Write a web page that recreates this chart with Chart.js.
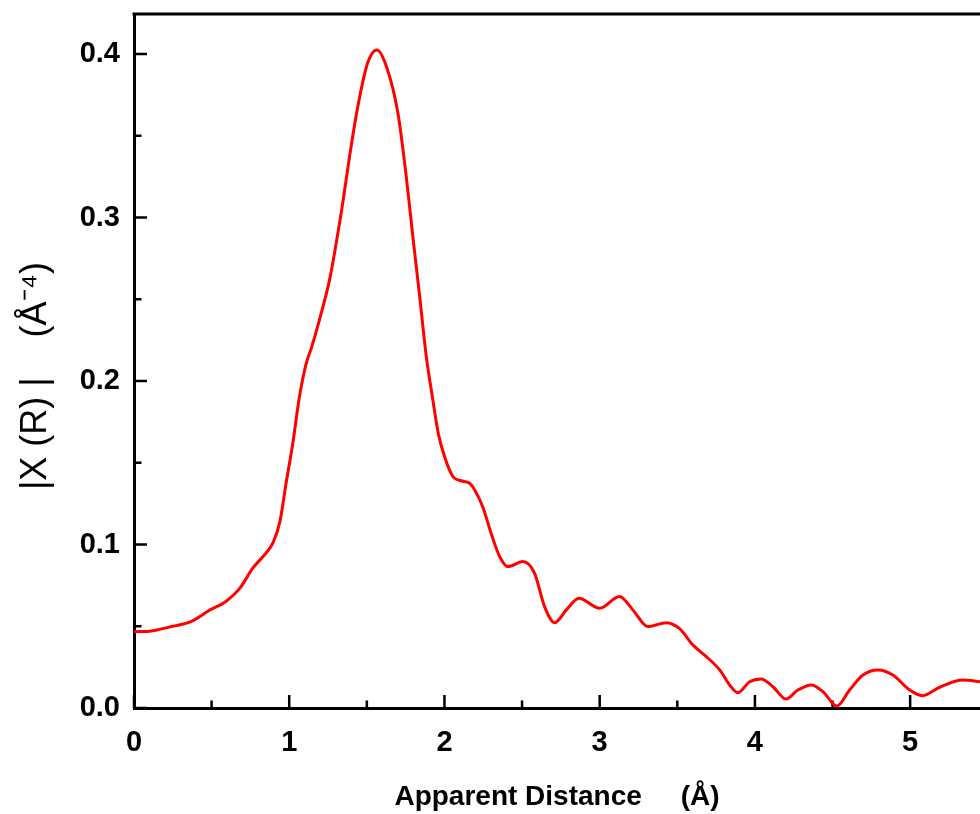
<!DOCTYPE html>
<html>
<head>
<meta charset="utf-8">
<script src="https://cdn.jsdelivr.net/npm/chart.js@4"></script>
<style>
  html, body { margin: 0; padding: 0; background: #fff; overflow: hidden; }
  #wrap { width: 980px; height: 814px; }
</style>
</head>
<body>
<div id="wrap"><canvas id="myChart" width="980" height="814"></canvas></div>
<script>
// apparent distance (Å) and |chi(R)| values
const distance = [0.0, 0.1, 0.25, 0.37, 0.49, 0.59, 0.68, 0.765, 0.85, 0.895, 0.94, 0.98,
  1.023, 1.066, 1.11, 1.142, 1.195, 1.26, 1.303, 1.345, 1.389, 1.442, 1.506, 1.565,
  1.625, 1.70, 1.754, 1.796, 1.84, 1.883, 1.925, 1.96, 2.0, 2.054, 2.108, 2.16, 2.194,
  2.247, 2.30, 2.355, 2.409, 2.505, 2.58, 2.645, 2.71, 2.785, 2.866, 3.0, 3.128, 3.214,
  3.31, 3.429, 3.515, 3.60, 3.687, 3.773, 3.837, 3.89, 3.966, 4.04, 4.116, 4.20, 4.277,
  4.363, 4.438, 4.528, 4.61, 4.696, 4.793, 4.889, 4.997, 5.079, 5.19, 5.34, 5.45];
const chiR = [0.0467, 0.047, 0.050, 0.053, 0.060, 0.065, 0.073, 0.0855, 0.0947, 0.101, 0.114, 0.1376,
  0.162, 0.1906, 0.211, 0.220, 0.2376, 0.262, 0.2846, 0.309, 0.3376, 0.368, 0.3948, 0.4025,
  0.3927, 0.364, 0.325, 0.2886, 0.252, 0.215, 0.1886, 0.168, 0.154, 0.1416, 0.139, 0.1376, 0.1335,
  0.123, 0.107, 0.0927, 0.0865, 0.0896, 0.0825, 0.062, 0.0522, 0.060, 0.0672, 0.061, 0.0682, 0.060,
  0.0498, 0.0522, 0.0485, 0.0386, 0.0314, 0.0233, 0.0141, 0.0094, 0.0161, 0.0178, 0.013, 0.0055, 0.011,
  0.0141, 0.010, 0.0012, 0.011, 0.0202, 0.0233, 0.0202, 0.011, 0.0075, 0.0127, 0.0171, 0.0161];

const xTicks = [0, 1, 2, 3, 4, 5];
const yTicks = [0.0, 0.1, 0.2, 0.3, 0.4];
const xTitle = 'Apparent Distance     (\u00C5)';
const yTitle = '|X (R) |    (\u00C5\u207B\u2074)';

const FONT = "'Liberation Sans', Arial, sans-serif";

// inward major/minor ticks, top frame line and rotated y title
const frame = {
  id: 'frame',
  beforeDatasetsDraw(chart) {
    const ctx = chart.ctx;
    const a = chart.chartArea;
    const xs = chart.scales.x, ys = chart.scales.y;
    ctx.save();
    ctx.strokeStyle = '#000';
    ctx.lineWidth = 2.5;
    ctx.beginPath();
    xTicks.forEach(v => {
      const p = xs.getPixelForValue(v);
      ctx.moveTo(p, a.bottom); ctx.lineTo(p, a.bottom - 13);
      const m = xs.getPixelForValue(v + 0.5);
      if (m < a.right) { ctx.moveTo(m, a.bottom); ctx.lineTo(m, a.bottom - 7.5); }
    });
    yTicks.forEach(v => {
      const p = ys.getPixelForValue(v);
      ctx.moveTo(a.left, p); ctx.lineTo(a.left + 13, p);
      const m = ys.getPixelForValue(v + 0.05);
      if (m > a.top) { ctx.moveTo(a.left, m); ctx.lineTo(a.left + 7.5, m); }
    });
    ctx.stroke();
    ctx.lineWidth = 3;
    ctx.beginPath();
    ctx.moveTo(a.left - 1.5, a.top);
    ctx.lineTo(chart.width, a.top);
    ctx.stroke();
    ctx.restore();
  },
  afterDraw(chart) {
    const ctx = chart.ctx;
    ctx.save();
    ctx.translate(36, 376);
    ctx.rotate(-Math.PI / 2);
    ctx.fillStyle = '#000';
    ctx.font = '36px ' + FONT;
    ctx.textAlign = 'center';
    ctx.textBaseline = 'middle';
    ctx.fillText(yTitle, 0, 0);
    ctx.restore();
  }
};

const ctx = document.getElementById('myChart');

new Chart(ctx, {
  type: 'line',
  data: {
    datasets: [{
      data: distance.map((d, i) => ({ x: d, y: chiR[i] })),
      borderColor: '#ff0000',
      borderWidth: 3,
      pointRadius: 0,
      cubicInterpolationMode: 'monotone',
      fill: false
    }]
  },
  options: {
    responsive: false,
    animation: false,
    devicePixelRatio: 1,
    layout: { padding: { top: 14, right: 0, left: 0, bottom: 0 } },
    plugins: { legend: { display: false }, tooltip: { enabled: false } },
    scales: {
      x: {
        type: 'linear',
        min: 0,
        max: 5.45,
        afterBuildTicks: s => { s.ticks = xTicks.map(v => ({ value: v })); },
        afterFit: s => { s.height = 106; s.paddingLeft = 0; s.paddingRight = 0; },
        grid: { drawOnChartArea: false, drawTicks: false },
        border: { display: true, color: '#000', width: 3 },
        ticks: {
          color: '#000',
          font: { family: FONT, size: 29, weight: 'bold' },
          padding: 18,
          maxRotation: 0,
          autoSkip: false,
          callback: v => String(v)
        },
        title: {
          display: true,
          text: xTitle,
          color: '#000',
          font: { family: FONT, size: 28, weight: 'bold' },
          padding: { top: 0, bottom: 0 }
        }
      },
      y: {
        type: 'linear',
        min: 0,
        max: 0.4245,
        afterBuildTicks: s => { s.ticks = yTicks.map(v => ({ value: v })); },
        afterFit: s => { s.width = 134; s.paddingTop = 0; s.paddingBottom = 0; },
        grid: { drawOnChartArea: false, drawTicks: false },
        border: { display: true, color: '#000', width: 3 },
        ticks: {
          color: '#000',
          font: { family: FONT, size: 29, weight: 'bold' },
          padding: 14,
          callback: v => v.toFixed(1)
        }
      }
    }
  },
  plugins: [frame]
});
</script>
</body>
</html>
